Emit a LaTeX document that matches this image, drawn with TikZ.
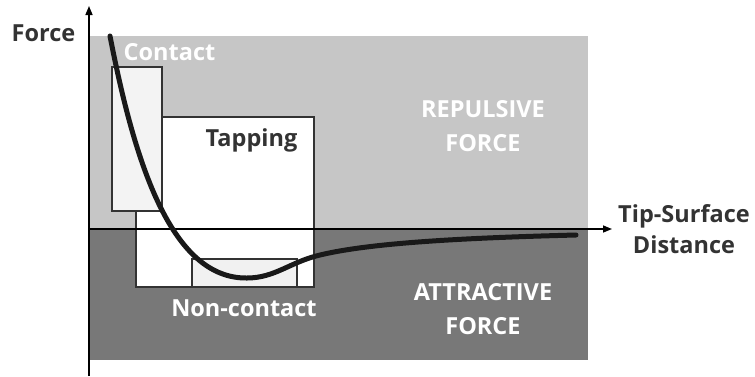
\documentclass[tikz,border=0pt]{standalone}
\usepackage{fontspec}
\setmainfont{Open Sans}
\usetikzlibrary{arrows.meta}
\definecolor{lightregion}{HTML}{C6C6C6}
\definecolor{darkregion}{HTML}{787878}
\definecolor{boxline}{HTML}{333333}
\definecolor{txtdark}{HTML}{333333}
\definecolor{paleA}{HTML}{F3F3F3}
\definecolor{paleB}{HTML}{F1F1F1}
\tikzset{
  region/.style={draw=none, inner sep=0pt, anchor=north west},
  modebox/.style={draw=boxline, line width=1.2pt, inner sep=0pt},
  axisline/.style={draw=black, line width=1.5pt, -{Triangle[length=9pt,width=7pt]}},
  curveline/.style={draw=black!90, line width=5pt, line cap=round},
  darklabel/.style={text=txtdark, font=\bfseries\fontsize{23.5}{35}\selectfont, align=center, inner sep=0pt},
  whitelabel/.style={text=white, font=\bfseries\fontsize{23.5}{34}\selectfont, align=center, inner sep=0pt},
}
\begin{document}
\begin{tikzpicture}[x=1pt,y=-1pt]
\useasboundingbox (0,0) rectangle (755,376);
% regions
\node[region, fill=lightregion, minimum width=499pt, minimum height=193pt] (rep) at (89,36) {};
\node[region, fill=darkregion, minimum width=499pt, minimum height=131pt] (att) at (89,229) {};
% mode boxes
\node[modebox, fill=white, minimum width=178pt, minimum height=170pt] (tapbox) at (225,202) {};
\node[modebox, fill=paleA, minimum width=50pt, minimum height=144pt] (conbox) at (137,139) {};
\node[modebox, fill=paleB, minimum width=105pt, minimum height=28pt] (ncbox) at (244.5,273) {};
% axes
\coordinate (o) at (89,376);
\coordinate (ytop) at (89,6);
\coordinate (xl) at (89,229);
\coordinate (xr) at (612,229);
\draw[axisline] (o) -- (ytop);
\draw[axisline] (xl) -- (xr);
% curve
\coordinate (c0) at (110,36);
\coordinate (cmin) at (247,278);
\coordinate (cmid) at (320,255);
\coordinate (cend) at (576,235);
\draw[curveline] (c0) .. controls (135,165) and (172,279) .. (cmin)
  .. controls (275,278) and (290,262) .. (cmid)
  .. controls (370,243) and (460,238) .. (cend);
% labels
\node[darklabel] (force) at (43.5,33) {Force};
\node[whitelabel] (contact) at (169.5,52) {Contact};
\node[darklabel] (tapping) at (251.5,140) {Tapping};
\node[whitelabel] (noncontact) at (244,308) {Non-contact};
\node[whitelabel] (repulsive) at (483,126) {REPULSIVE\\FORCE};
\node[whitelabel] (attractive) at (483,309) {ATTRACTIVE\\FORCE};
\node[darklabel, font=\bfseries\fontsize{23.5}{31}\selectfont] (dist) at (684,229) {Tip-Surface\\Distance};
\end{tikzpicture}
\end{document}
